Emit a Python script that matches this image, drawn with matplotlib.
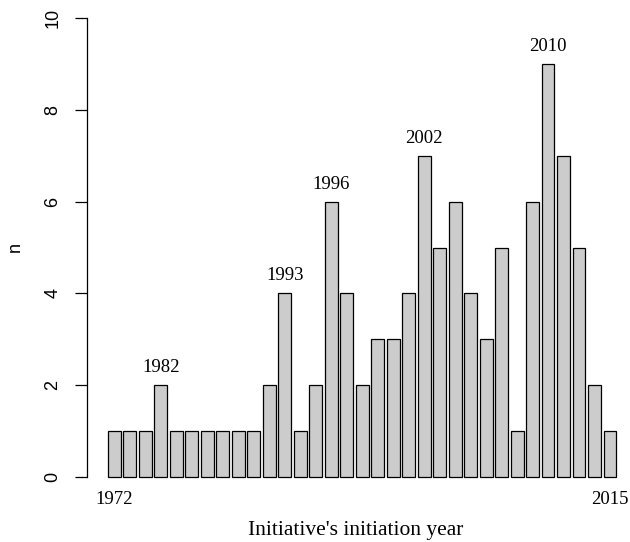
import matplotlib
matplotlib.use("Agg")
import matplotlib.pyplot as plt

# initiation years (only some are printed on the chart; the rest are estimates)
years = [1972, 1976, 1979, 1982, 1984, 1986, 1987, 1988, 1989, 1990, 1992,
         1993, 1994, 1995, 1996, 1997, 1998, 1999, 2000, 2001, 2002,
         2003, 2004, 2005, 2006, 2007, 2008, 2009, 2010,
         2011, 2012, 2013, 2015]
counts = [1, 1, 1, 2, 1, 1, 1, 1, 1, 1, 2,
          4, 1, 2, 6, 4, 2, 3, 3, 4, 7,
          5, 6, 4, 3, 5, 1, 6, 9,
          7, 5, 2, 1]
top_labels = [1982, 1993, 1996, 2002, 2010]
bottom_labels = [1972, 2015]
yticks = [0, 2, 4, 6, 8, 10]

W, H = 630, 542
fig = plt.figure(figsize=(W / 100, H / 100), dpi=100)
ax = fig.add_axes([87 / W, (H - 495) / H, (W - 87) / W, 495 / H])

# R barplot layout: width 1, space 0.2
xs = [0.7 + 1.2 * i for i in range(len(counts))]
ax.bar(xs, counts, width=1.0, color="#cccccc", edgecolor="black", linewidth=0.9)

ppu = 511 / 39.6
ax.set_xlim(0.2 - 21 / ppu, 39.8 + 11 / ppu)
ax.set_ylim(-0.4, 10.4)

for s in ["top", "right", "bottom"]:
    ax.spines[s].set_visible(False)
ax.spines["left"].set_bounds(0, 10)
ax.spines["left"].set_linewidth(0.9)
ax.set_xticks([])
ax.set_yticks(yticks)
ax.set_yticklabels([str(t) for t in yticks], rotation=90, va="center",
                   fontsize=13, family="Liberation Sans")
ax.tick_params(axis="y", length=8.6, width=0.9, pad=10)
ax.set_ylabel("n", fontsize=13, family="Liberation Sans", labelpad=15)

serif = "Liberation Serif"
for y in top_labels:
    i = years.index(y)
    ax.text(xs[i], counts[i] + 0.2, str(y), ha="center", va="bottom",
            fontsize=13.5, family=serif)
for y in bottom_labels:
    i = years.index(y)
    ax.text(xs[i], -0.5, str(y), ha="center", va="center",
            fontsize=13.5, family=serif, clip_on=False)

fig.text(356 / W, 1 - 530 / H, "Initiative's initiation year", ha="center",
         va="center", fontsize=15.5, family=serif)

fig.savefig("out.png", dpi=100)
